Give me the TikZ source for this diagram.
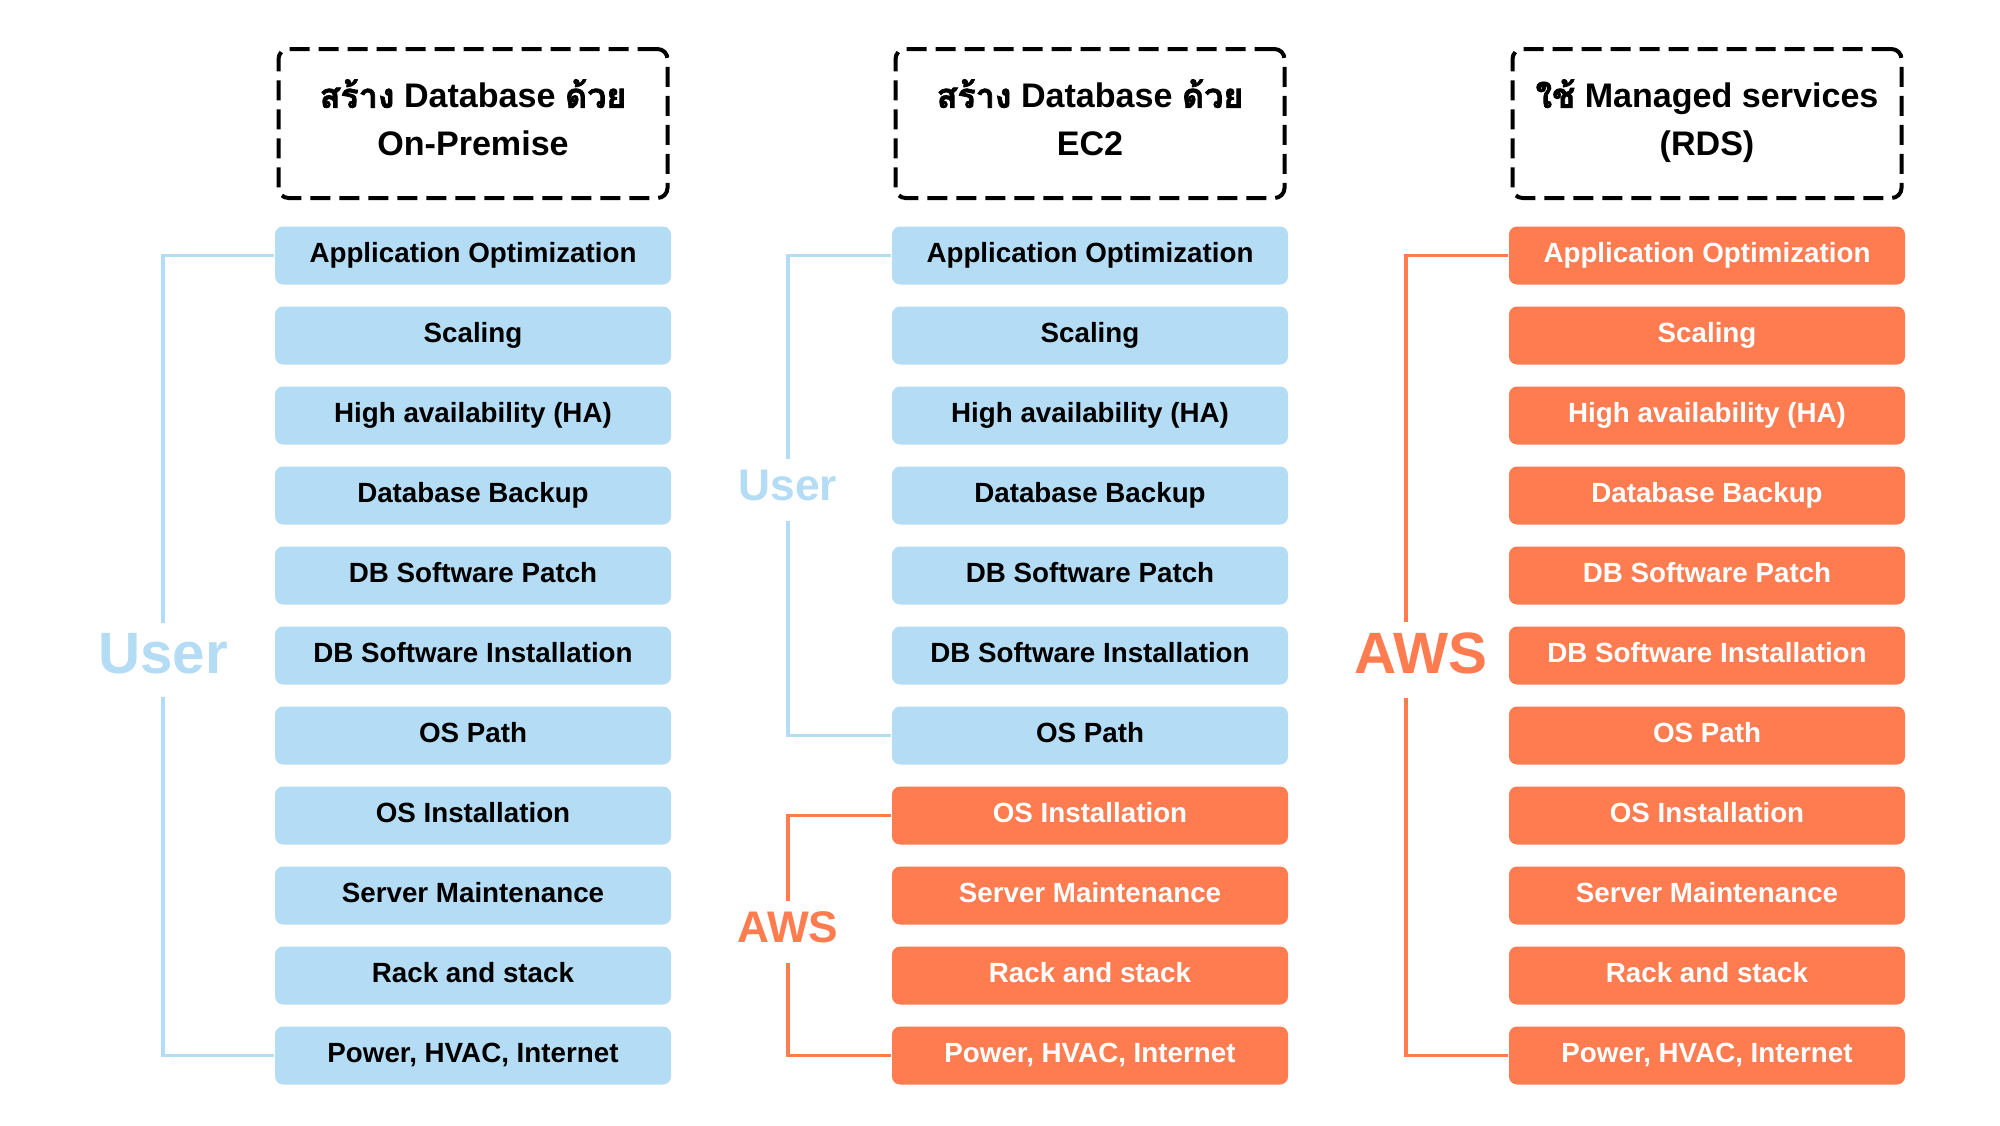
\documentclass[tikz,border=0pt]{standalone}
\usepackage{fontspec}
\setmainfont{Liberation Sans}
\newfontfamily\thaifont[Script=Thai,FakeBold=2]{Loma}
\definecolor{userblue}{HTML}{B4DCF5}
\definecolor{awsorange}{HTML}{FF7B50}
\tikzset{
  itembox/.style={minimum width=3.96cm,minimum height=0.58cm,rounded corners=0.08cm,inner sep=0pt,
    font=\fontsize{7.9}{9}\selectfont\bfseries,text height=5.7pt,text depth=1.6pt},
  userbox/.style={itembox,fill=userblue,text=black},
  awsbox/.style={itembox,fill=awsorange,text=white},
  headbox/.style={draw=black,line width=0.04cm,dash pattern=on 0.2cm off 0.09cm,rounded corners=0.1cm,
    minimum width=3.89cm,minimum height=1.49cm,align=center,text depth=3.4pt,
    font=\fontsize{9.7}{13.65}\selectfont\bfseries},
  biglabel/.style={inner sep=0.1cm,text depth=3.7pt,font=\fontsize{16.6}{18}\selectfont\bfseries},
  smalllabel/.style={inner sep=0.1cm,text depth=2.8pt,font=\fontsize{12.6}{14}\selectfont\bfseries},
  userline/.style={userblue,line width=0.035cm},
  awsline/.style={awsorange,line width=0.035cm},
}
\begin{document}
\begin{tikzpicture}
\useasboundingbox (0,0) rectangle (20,-11.25);
% headers
\node[headbox] (hop) at (4.73,-1.235) {{\thaifont สร้าง} Database {\thaifont ด้วย}\\On-Premise};
\node[headbox] (hec) at (10.90,-1.235) {{\thaifont สร้าง} Database {\thaifont ด้วย}\\EC2};
\node[headbox] (hrds) at (17.07,-1.235) {{\thaifont ใช้} Managed services\\(RDS)};
% on-premise
\node[userbox] (op1) at (4.73,-2.555) {Application Optimization};
\node[userbox] (op2) at (4.73,-3.355) {Scaling};
\node[userbox] (op3) at (4.73,-4.155) {High availability (HA)};
\node[userbox] (op4) at (4.73,-4.955) {Database Backup};
\node[userbox] (op5) at (4.73,-5.755) {DB Software Patch};
\node[userbox] (op6) at (4.73,-6.555) {DB Software Installation};
\node[userbox] (op7) at (4.73,-7.355) {OS Path};
\node[userbox] (op8) at (4.73,-8.155) {OS Installation};
\node[userbox] (op9) at (4.73,-8.955) {Server Maintenance};
\node[userbox] (op10) at (4.73,-9.755) {Rack and stack};
\node[userbox] (op11) at (4.73,-10.555) {Power, HVAC, Internet};
% ec2
\node[userbox] (ec1) at (10.90,-2.555) {Application Optimization};
\node[userbox] (ec2) at (10.90,-3.355) {Scaling};
\node[userbox] (ec3) at (10.90,-4.155) {High availability (HA)};
\node[userbox] (ec4) at (10.90,-4.955) {Database Backup};
\node[userbox] (ec5) at (10.90,-5.755) {DB Software Patch};
\node[userbox] (ec6) at (10.90,-6.555) {DB Software Installation};
\node[userbox] (ec7) at (10.90,-7.355) {OS Path};
\node[awsbox] (ec8) at (10.90,-8.155) {OS Installation};
\node[awsbox] (ec9) at (10.90,-8.955) {Server Maintenance};
\node[awsbox] (ec10) at (10.90,-9.755) {Rack and stack};
\node[awsbox] (ec11) at (10.90,-10.555) {Power, HVAC, Internet};
% rds
\node[awsbox] (rds1) at (17.07,-2.555) {Application Optimization};
\node[awsbox] (rds2) at (17.07,-3.355) {Scaling};
\node[awsbox] (rds3) at (17.07,-4.155) {High availability (HA)};
\node[awsbox] (rds4) at (17.07,-4.955) {Database Backup};
\node[awsbox] (rds5) at (17.07,-5.755) {DB Software Patch};
\node[awsbox] (rds6) at (17.07,-6.555) {DB Software Installation};
\node[awsbox] (rds7) at (17.07,-7.355) {OS Path};
\node[awsbox] (rds8) at (17.07,-8.155) {OS Installation};
\node[awsbox] (rds9) at (17.07,-8.955) {Server Maintenance};
\node[awsbox] (rds10) at (17.07,-9.755) {Rack and stack};
\node[awsbox] (rds11) at (17.07,-10.555) {Power, HVAC, Internet};
% who manages what
\node[biglabel,text=userblue] (opuser) at (1.63,-6.60) {User};
\node[smalllabel,text=userblue] (ecuser) at (7.88,-4.90) {User};
\node[smalllabel,text=awsorange] (ecaws) at (7.88,-9.32) {AWS};
\node[biglabel,text=awsorange] (rdsaws) at (14.21,-6.60) {AWS};
\draw[userline] (op1.west) -| (opuser.north);
\draw[userline] (opuser.south) |- (op11.west);
\draw[userline] (ec1.west) -| (ecuser.north);
\draw[userline] (ecuser.south) |- (ec7.west);
\draw[awsline] (ec8.west) -| (ecaws.north);
\draw[awsline] (ecaws.south) |- (ec11.west);
\draw[awsline] (rds1.west) -| ([xshift=-0.15cm]rdsaws.north);
\draw[awsline] ([xshift=-0.15cm]rdsaws.south) |- (rds11.west);
\end{tikzpicture}
\end{document}
